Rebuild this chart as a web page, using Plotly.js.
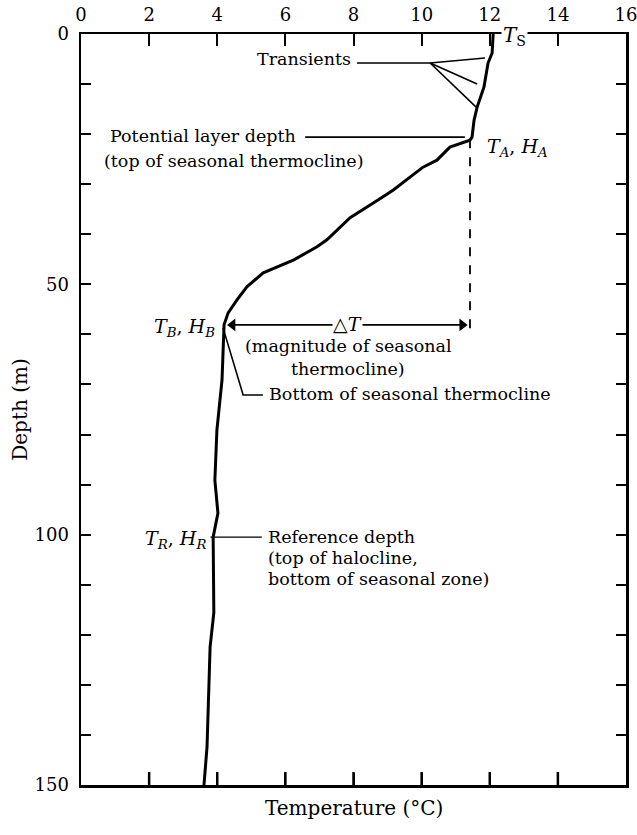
<!DOCTYPE html>
<html>
<head>
<meta charset="utf-8">
<script src="https://cdn.plot.ly/plotly-3.0.1.min.js"></script>
<style>html,body{margin:0;padding:0;background:#fff;}#chart{width:637px;height:835px;}</style>
</head>
<body>
<div id="chart"></div>
<script>
// Temperature profile
const depth = [0, 3.8, 5.8, 10.6, 14.6, 17.2, 20.6, 21.2, 22.6, 25.2, 26.6, 31.2, 33.8, 36.7, 41.1, 42.5, 45.1, 47.7, 50.5, 53.1, 55.7, 58.1, 69.1, 77.1, 79.1, 89.1, 95.7, 100.5, 115.6, 122.4, 142.4, 150];
const temperature = [12.1, 12.07, 11.95, 11.83, 11.63, 11.54, 11.48, 11.42, 10.83, 10.45, 10.04, 9.16, 8.57, 7.9, 7.22, 6.93, 6.25, 5.35, 4.87, 4.58, 4.32, 4.2, 4.14, 4.02, 3.99, 3.93, 4.02, 3.88, 3.9, 3.79, 3.7, 3.61];

// Axis ticks
const xTickVals = [0, 2, 4, 6, 8, 10, 12, 14, 16];
const xTickText = ["0", "2", "4", "6", "8", "10", "12", "14", "16"];
const xBottomTicks = [2, 4, 6, 8, 10, 12, 14];
const yTickVals = [0, 50, 100, 150];
const yTickText = ["0", "50", "100", "150"];
const yMinorStep = 10;

// Leader lines [T...], [depth...]
const transientsT = [8.1, 10.25, 11.86, null, 10.25, 11.63, null, 10.25, 11.6];
const transientsD = [5.8, 5.8, 4.8, null, 5.8, 10.0, null, 5.8, 14.6];
const potentialT = [6.58, 11.27];
const potentialD = [20.6, 20.6];
const bottomT = [4.17, 4.76, 5.34];
const bottomD = [58.7, 72.1, 72.1];
const referenceT = [3.8, 5.31];
const referenceD = [100.5, 100.5];
const dashedT = [11.42, 11.42];
const dashedD = [21.0, 59.7];
const deltaT = [4.28, 11.36];   // arrow tips
const deltaD = 58.1;

const serif = "DejaVu Serif, Liberation Serif, serif";
const fs = 17.5;
const fsSym = 19;

// arrowheads: triangle markers set just inside the tips
const headHalf = 0.17;
const arrowLine = {x: [deltaT[0] + 0.1, deltaT[1] - 0.1], y: [deltaD, deltaD]};
const arrowHeads = {x: [deltaT[0] + headHalf, deltaT[1] - headHalf], y: [deltaD, deltaD]};

// bottom-edge tick marks (segments drawn on the temperature scale)
const depthMax = 150, tickDepth = 2.6;
const bottomTickX = [], bottomTickY = [];
xBottomTicks.forEach(v => { bottomTickX.push(v, v, null); bottomTickY.push(depthMax, depthMax - tickDepth, null); });

const traces = [
  {x: temperature, y: depth, mode: "lines", line: {color: "#000", width: 3}, hoverinfo: "skip"},
  {x: transientsT, y: transientsD, mode: "lines", line: {color: "#000", width: 1.6}, hoverinfo: "skip"},
  {x: potentialT, y: potentialD, mode: "lines", line: {color: "#000", width: 1.6}, hoverinfo: "skip"},
  {x: bottomT, y: bottomD, mode: "lines", line: {color: "#000", width: 1.6}, hoverinfo: "skip"},
  {x: referenceT, y: referenceD, mode: "lines", line: {color: "#000", width: 1.4}, hoverinfo: "skip"},
  {x: dashedT, y: dashedD, mode: "lines", line: {color: "#000", width: 1.8, dash: "dash"}, hoverinfo: "skip"},
  {x: arrowLine.x, y: arrowLine.y, mode: "lines", line: {color: "#000", width: 1.8}, hoverinfo: "skip"},
  {x: arrowHeads.x, y: arrowHeads.y, mode: "markers", marker: {symbol: ["triangle-left", "triangle-right"], size: 11, color: "#000", line: {width: 0}}, hoverinfo: "skip"},
  {x: bottomTickX, y: bottomTickY, mode: "lines", connectgaps: false, line: {color: "#000", width: 2.5}, hoverinfo: "skip"}
];

const ann = (text, x, y, xanchor, extra) => Object.assign({
  text: text, x: x, y: y, xref: "x", yref: "y", xanchor: xanchor, yanchor: "middle",
  showarrow: false, font: {family: serif, size: fs, color: "#000"}
}, extra || {});
const symFont = {family: serif, size: fsSym, color: "#000"};

const annotations = [
  ann("<i>T</i><sub>S</sub>", 12.72, 0.4, "center", {bgcolor: "#fff", borderpad: 1, font: {family: serif, size: 20, color: "#000"}}),
  ann("Transients", 7.99, 5.0, "right"),
  ann("Potential layer depth", 6.37, 20.3, "right"),
  ann("(top of seasonal thermocline)", 0.62, 25.3, "left"),
  ann("<i>T<sub>A</sub></i>, <i>H<sub>A</sub></i>", 11.86, 22.6, "left", {font: symFont}),
  ann("<i>T<sub>B</sub></i>, <i>H<sub>B</sub></i>", 4.0, 58.6, "right", {font: symFont}),
  ann("△<i>T</i>", 7.82, 58.0, "center", {font: symFont, bgcolor: "#fff", borderpad: 0}),
  ann("(magnitude of seasonal", 7.85, 62.4, "center"),
  ann("thermocline)", 7.85, 67.0, "center"),
  ann("Bottom of seasonal thermocline", 5.46, 72.0, "left"),
  ann("<i>T<sub>R</sub></i>, <i>H<sub>R</sub></i>", 3.72, 100.9, "right", {font: symFont}),
  ann("Reference depth", 5.42, 100.4, "left"),
  ann("(top of halocline,", 5.42, 104.6, "left"),
  ann("bottom of seasonal zone)", 5.42, 108.8, "left"),
  // x axis title (bottom)
  {text: "Temperature (°C)", x: 0.5, y: -0.031, xref: "paper", yref: "paper", xanchor: "center", yanchor: "middle", showarrow: false, font: {family: serif, size: 20, color: "#000"}}
];

const layout = {
  width: 637, height: 835,
  margin: {l: 81, r: 11, t: 34, b: 50, pad: 0},
  paper_bgcolor: "#fff", plot_bgcolor: "#fff",
  showlegend: false,
  font: {family: serif, color: "#000", size: 17},
  xaxis: {
    range: [0, 16], side: "top", tickvals: xTickVals, ticktext: xTickText,
    ticks: "inside", ticklen: 12, tickwidth: 2, tickcolor: "#000",
    showline: true, linewidth: 2.5, linecolor: "#000", mirror: "ticks",
    showgrid: false, zeroline: false, fixedrange: true,
    ticklabelstandoff: 3, ticklabeloverflow: "allow",
    tickfont: {family: serif, size: 18, color: "#000"}
  },
  yaxis: {
    range: [depthMax, 0], tickvals: yTickVals, ticktext: yTickText,
    ticks: "inside", ticklen: 10, tickwidth: 2, tickcolor: "#000",
    minor: {dtick: yMinorStep, ticks: "inside", ticklen: 10, tickwidth: 2, tickcolor: "#000", showgrid: false},
    showline: true, linewidth: 2.5, linecolor: "#000", mirror: "ticks",
    showgrid: false, zeroline: false, fixedrange: true,
    ticklabelstandoff: 6,
    tickfont: {family: serif, size: 18, color: "#000"},
    title: {text: "Depth (m)", font: {family: serif, size: 20, color: "#000"}, standoff: 2}
  },
  annotations: annotations
};

Plotly.newPlot("chart", traces, layout, {displayModeBar: false, staticPlot: true});
</script>
</body>
</html>
